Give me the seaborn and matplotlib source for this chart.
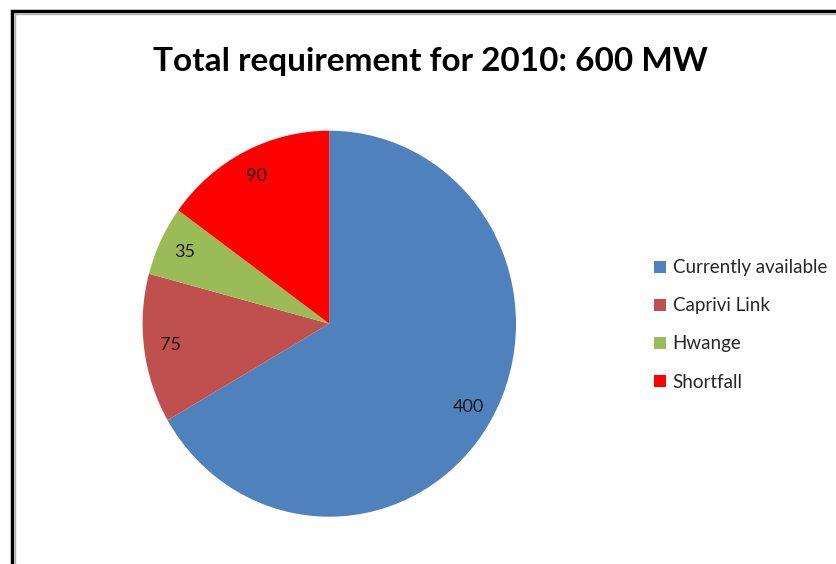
import matplotlib
matplotlib.use("Agg")
import matplotlib.pyplot as plt
import seaborn as sns
from matplotlib.patches import Rectangle

categories = ["Currently available", "Caprivi Link", "Hwange", "Shortfall"]
values = [400, 75, 35, 90]
colors = ["#4F81BD", "#C0504D", "#9BBB59", "#FF0000"]
title = "Total requirement for 2010: 600 MW"

sns.set_theme(style="white")
plt.rcParams["font.family"] = ["Lato", "DejaVu Sans"]

W, H = 837, 564
fig = plt.figure(figsize=(W / 100, H / 100), dpi=100)
fig.patch.set_facecolor("white")

# pie geometry (pixels)
cx, cy, rx, ry = 329.3, 323.7, 186.7, 193.0
ax = fig.add_axes([(cx - rx) / W, 1 - (cy + ry) / H, 2 * rx / W, 2 * ry / H])
total = sum(values)
wedges, texts, autotexts = ax.pie(
    values, colors=colors, startangle=90, counterclock=False,
    autopct=lambda p: f"{p * total / 100:.0f}", pctdistance=0.86,
    wedgeprops=dict(linewidth=0), textprops=dict(fontsize=13, color="#1a1a1a"),
)
ax.set_aspect("auto")
ax.set_xlim(-1, 1)
ax.set_ylim(-1, 1)
ax.axis("off")

fig.text(430 / W, 1 - 61 / H, title, ha="center", va="center",
         fontsize=24, fontweight="bold", color="black")

leg = fig.legend(wedges, categories, loc="center left",
                 bbox_to_anchor=(637 / W, 1 - 325 / H), frameon=False,
                 fontsize=13.5, handlelength=0.65, handleheight=0.65,
                 handletextpad=0.35, labelspacing=1.12)

# border frame (left and top edges visible)
fig.add_artist(Rectangle((12 / W, -0.1), 1.2, 1 - 11 / H + 0.1,
                         transform=fig.transFigure, fill=False,
                         edgecolor="black", linewidth=2.5))
fig.add_artist(Rectangle((15 / W, -0.1), 1.2, 1 - 14 / H + 0.1,
                         transform=fig.transFigure, fill=False,
                         edgecolor="#b0b0b0", linewidth=1.0))

fig.savefig("out.png", dpi=100, facecolor="white")
